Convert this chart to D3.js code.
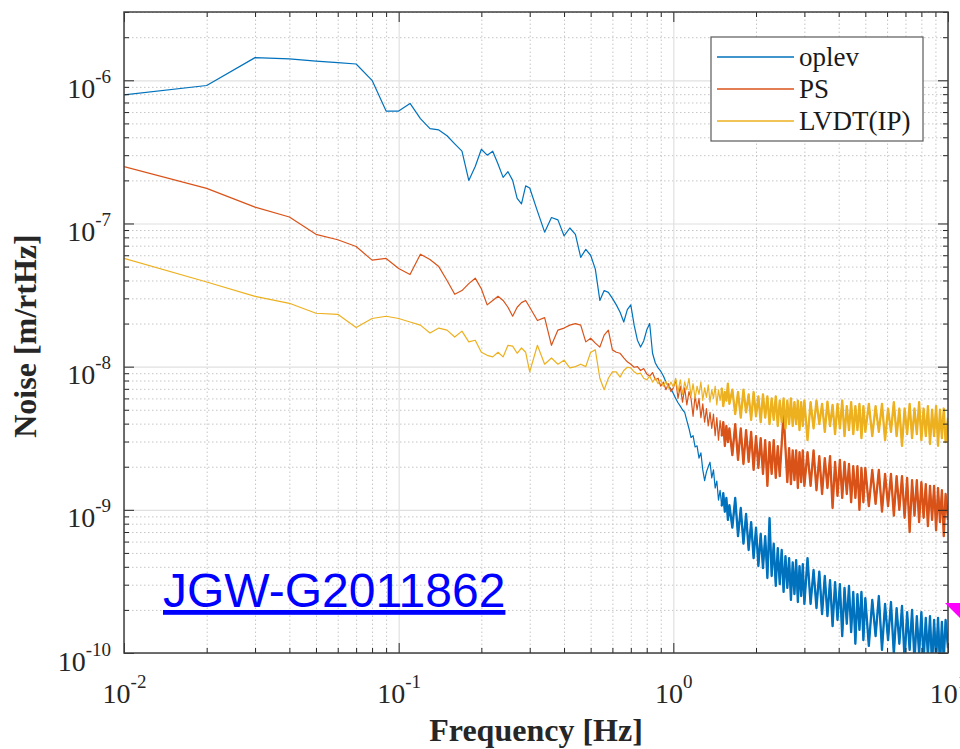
<!DOCTYPE html>
<html>
<head>
<meta charset="utf-8">
<script src="https://cdn.jsdelivr.net/npm/d3@7"></script>
<style>
body{margin:0;background:#fff;}
svg{display:block;}
</style>
</head>
<body>
<div id="chart-area"></div>
<script>
// frequency bins [Hz]
var freq=[0.01,0.02,0.03,0.04,0.05,0.06,0.07,0.08,0.09,
  0.10,0.11,0.12,0.13,0.14,0.15,0.16,0.17,0.18,0.19,
  0.20,0.21,0.22,0.23,0.24,0.25,0.26,0.27,0.28,0.29,0.30,
  0.32,0.34,0.36,0.38,0.40,0.42,0.44,0.46,0.48,0.50,
  0.52,0.54,0.56,0.58,0.60,0.62,0.64,0.66,0.68,0.70,
  0.72,0.74,0.76,0.78,0.80,0.82,0.84,0.86,0.88,0.90,
  0.92,0.94,0.96,0.98,1.00,
  1.02,1.04,1.06,1.08,1.10,1.12,1.14,1.16,1.18,1.20,
  1.22,1.24,1.26,1.28,1.30,1.32,1.34,1.36,1.38,1.40,
  1.42,1.44,1.46,1.48,1.50,1.52,1.54,1.56,1.58,1.60,
  1.64,1.68,1.72,1.76,1.80,1.84,1.88,1.92,1.96,2.00,
  2.04,2.08,2.12,2.16,2.20,2.24,2.28,2.32,2.36,2.40,
  2.44,2.48,2.52,2.56,2.60,2.64,2.68,2.72,2.76,2.80,
  2.84,2.88,2.92,2.96,3.00,
  3.08,3.16,3.24,3.32,3.40,3.48,3.56,3.64,3.72,3.80,
  3.88,3.96,4.04,4.12,4.20,4.28,4.36,4.44,4.52,4.60,
  4.68,4.76,4.84,4.92,5.00,
  5.15,5.30,5.45,5.60,5.75,5.90,6.05,6.20,6.35,6.50,
  6.65,6.80,6.95,7.10,7.25,7.40,7.55,7.70,7.85,8.00,
  8.15,8.30,8.45,8.60,8.75,8.90,9.05,9.20,9.35,9.50,
  9.65,9.80,10.0];

// noise [m/rtHz]
var oplev=[7.9e-7,9.2e-7,1.44e-6,1.41e-6,1.36e-6,1.33e-6,1.30e-6,1.0e-6,6.1e-7,
  6.1e-7,6.9e-7,5.4e-7,4.6e-7,4.5e-7,4.1e-7,3.6e-7,3.2e-7,2.0e-7,2.5e-7,
  3.3e-7,3.0e-7,3.2e-7,2.6e-7,2.1e-7,2.3e-7,2.0e-7,1.5e-7,1.37e-7,1.83e-7,1.77e-7,
  1.22e-7,8.7e-8,1.1e-7,1.06e-7,8.2e-8,9.3e-8,8.4e-8,5.8e-8,6.6e-8,6.0e-8,
  4.8e-8,2.9e-8,3.4e-8,3.3e-8,3.0e-8,2.7e-8,2.4e-8,2.05e-8,2.5e-8,2.7e-8,
  1.95e-8,1.53e-8,1.37e-8,1.51e-8,1.8e-8,2.0e-8,1.24e-8,1.06e-8,9.8e-9,9.3e-9,
  8.6e-9,7.8e-9,7.3e-9,7.0e-9,6.5e-9,
  6.0e-9,5.6e-9,5.3e-9,5.0e-9,4.8e-9,4.2e-9,3.7e-9,3.2e-9,3.3e-9,2.75e-9,
  2.8e-9,2.3e-9,2.5e-9,1.9e-9,1.6e-9,1.84e-9,2.0e-9,2.15e-9,1.67e-9,1.9e-9,
  1.42e-9,1.59e-9,1.17e-9,1.37e-9,1.06e-9,1.31e-9,9.7e-10,1.21e-9,8.5e-10,1.08e-9,
  7.5e-10,1.21e-9,6.55e-10,1.03e-9,5.8e-10,9.35e-10,5.24e-10,8.2e-10,4.6e-10,7.5e-10,
  4.05e-10,6.8e-10,3.92e-10,6.55e-10,3.34e-10,8.76e-10,3.45e-10,5.8e-10,2.94e-10,5.4e-10,
  3.03e-10,5.24e-10,2.67e-10,4.75e-10,2.85e-10,4.6e-10,2.35e-10,4.3e-10,2.58e-10,4.46e-10,
  2.27e-10,4.05e-10,2.5e-10,4.17e-10,2.2e-10,
  4.6e-10,2.2e-10,3.8e-10,2.06e-10,3.7e-10,1.87e-10,3.45e-10,1.81e-10,3.23e-10,1.54e-10,
  3.13e-10,1.7e-10,3.03e-10,1.31e-10,2.85e-10,1.6e-10,2.94e-10,1.4e-10,2.67e-10,1.16e-10,
  2.58e-10,1.45e-10,2.67e-10,1.23e-10,2.42e-10,
  1.12e-10,2.35e-10,1.31e-10,2.5e-10,1.05e-10,2.2e-10,1.23e-10,2.27e-10,9.8e-11,2.06e-10,
  1.16e-10,2.13e-10,8.9e-11,1.93e-10,1.05e-10,2.0e-10,8.7e-11,1.81e-10,9.8e-11,1.93e-10,
  8.7e-11,1.76e-10,9.5e-11,1.81e-10,8.1e-11,1.7e-10,8.9e-11,1.76e-10,7.9e-11,1.65e-10,
  8.9e-11,1.7e-10,1.08e-10];

var ps=[2.5e-7,1.76e-7,1.30e-7,1.11e-7,8.4e-8,7.7e-8,6.9e-8,5.55e-8,5.7e-8,
  4.85e-8,4.4e-8,6.1e-8,5.6e-8,5.0e-8,4.0e-8,3.2e-8,3.4e-8,3.8e-8,4.15e-8,
  3.5e-8,2.7e-8,2.9e-8,3.1e-8,2.9e-8,2.6e-8,2.25e-8,2.6e-8,2.8e-8,2.9e-8,2.6e-8,
  2.1e-8,2.2e-8,1.41e-8,1.8e-8,1.86e-8,1.95e-8,2.0e-8,1.95e-8,1.49e-8,1.58e-8,
  1.46e-8,1.37e-8,1.66e-8,1.8e-8,1.31e-8,1.26e-8,1.24e-8,1.15e-8,1.08e-8,1.04e-8,
  9.9e-9,1.0e-8,9.4e-9,9.7e-9,8.9e-9,8.6e-9,9.1e-9,8.1e-9,8.3e-9,7.3e-9,
  7.8e-9,6.9e-9,7.6e-9,6.7e-9,7.1e-9,
  8.1e-9,6.0e-9,7.3e-9,5.65e-9,7.1e-9,5.4e-9,6.7e-9,6.0e-9,4.5e-9,6.3e-9,
  5.0e-9,6.0e-9,4.4e-9,5.5e-9,4.1e-9,5.1e-9,3.85e-9,4.8e-9,3.7e-9,4.67e-9,
  3.3e-9,4.4e-9,3.07e-9,4.2e-9,3.27e-9,4.1e-9,2.79e-9,3.85e-9,2.97e-9,3.7e-9,
  2.41e-9,3.97e-9,2.23e-9,3.7e-9,2.09e-9,3.6e-9,2.16e-9,3.5e-9,1.9e-9,3.27e-9,
  1.96e-9,3.17e-9,1.78e-9,3.07e-9,1.47e-9,2.97e-9,1.78e-9,3.07e-9,1.67e-9,2.79e-9,
  1.72e-9,2.88e-9,4.8e-9,2.7e-9,1.56e-9,2.7e-9,1.51e-9,2.6e-9,1.61e-9,2.6e-9,
  1.42e-9,2.53e-9,1.56e-9,2.6e-9,1.47e-9,
  2.53e-9,1.47e-9,2.6e-9,1.37e-9,2.37e-9,1.29e-9,2.3e-9,1.42e-9,2.37e-9,1.03e-9,
  2.16e-9,1.25e-9,2.23e-9,1.21e-9,2.16e-9,1.29e-9,2.09e-9,1.13e-9,2.02e-9,1.21e-9,
  2.02e-9,1.0e-9,1.96e-9,1.13e-9,1.96e-9,
  1.06e-9,1.9e-9,1.1e-9,1.9e-9,9.7e-10,1.78e-9,1.06e-9,1.78e-9,9.1e-10,1.72e-9,
  1.0e-9,1.72e-9,8.8e-10,1.67e-9,7.0e-10,1.61e-9,9.1e-10,1.61e-9,8.2e-10,1.56e-9,
  8.8e-10,1.51e-9,7.7e-10,1.47e-9,8.5e-10,1.47e-9,7.2e-10,1.42e-9,8.2e-10,1.37e-9,
  6.55e-10,1.29e-9,8.5e-10];

var lvdt=[5.7e-8,3.9e-8,3.1e-8,2.77e-8,2.36e-8,2.32e-8,1.88e-8,2.17e-8,2.25e-8,
  2.17e-8,2.05e-8,1.95e-8,1.72e-8,1.86e-8,1.8e-8,1.61e-8,1.77e-8,1.49e-8,1.53e-8,
  1.26e-8,1.2e-8,1.17e-8,1.26e-8,1.17e-8,1.41e-8,1.39e-8,1.24e-8,1.35e-8,1.26e-8,9.2e-9,
  1.41e-8,1.04e-8,1.15e-8,1.04e-8,1.11e-8,9.8e-9,1.0e-8,1.04e-8,1.0e-8,1.26e-8,
  1.31e-8,8.3e-9,6.9e-9,8.3e-9,9.2e-9,9.2e-9,8.45e-9,9.4e-9,9.9e-9,9.8e-9,
  9.2e-9,8.9e-9,9.0e-9,8.3e-9,8.1e-9,8.6e-9,7.8e-9,8.3e-9,7.6e-9,8.1e-9,
  7.3e-9,7.9e-9,7.1e-9,7.8e-9,7.2e-9,
  8.3e-9,6.65e-9,8.1e-9,6.4e-9,7.8e-9,6.9e-9,8.3e-9,6.2e-9,7.6e-9,6.0e-9,
  7.3e-9,6.4e-9,7.8e-9,5.8e-9,7.1e-9,6.1e-9,7.45e-9,5.65e-9,6.9e-9,6.0e-9,
  7.3e-9,5.4e-9,6.9e-9,5.8e-9,7.1e-9,5.3e-9,6.65e-9,5.8e-9,7.6e-9,5.5e-9,
  6.9e-9,4.67e-9,6.65e-9,4.4e-9,6.9e-9,4.8e-9,6.4e-9,4.25e-9,6.65e-9,4.5e-9,
  6.2e-9,4.1e-9,6.4e-9,4.4e-9,6.2e-9,3.97e-9,6.0e-9,4.25e-9,6.2e-9,3.85e-9,
  5.8e-9,4.1e-9,6.0e-9,3.7e-9,5.8e-9,3.97e-9,6.0e-9,3.85e-9,5.65e-9,3.97e-9,
  5.8e-9,3.6e-9,5.65e-9,3.85e-9,5.8e-9,
  3.07e-9,5.65e-9,3.7e-9,5.8e-9,3.97e-9,5.5e-9,3.5e-9,5.7e-9,3.85e-9,5.4e-9,
  3.38e-9,5.5e-9,3.7e-9,5.8e-9,3.27e-9,5.3e-9,3.6e-9,5.65e-9,3.38e-9,5.3e-9,
  3.6e-9,5.5e-9,3.17e-9,5.3e-9,3.5e-9,
  5.5e-9,3.27e-9,5.3e-9,3.5e-9,5.5e-9,3.07e-9,5.1e-9,3.5e-9,5.65e-9,3.27e-9,
  5.1e-9,2.8e-9,5.1e-9,3.38e-9,5.5e-9,3.17e-9,5.1e-9,3.38e-9,5.65e-9,3.07e-9,
  5.1e-9,3.27e-9,5.3e-9,2.88e-9,5.0e-9,3.27e-9,5.3e-9,2.8e-9,5.0e-9,3.17e-9,
  5.1e-9,2.97e-9,4.4e-9];

var seriesNames=["oplev","PS","LVDT(IP)"];
var seriesColors=["#0072bd","#d95319","#edb120"];
var series=[oplev,ps,lvdt];

var margin={left:124,right:12,top:12,bottom:96};
var width=960-margin.left-margin.right;
var height=749-margin.top-margin.bottom;
var serif="'Liberation Serif','Times New Roman',serif";
var ink="#262626";

var svg=d3.select("#chart-area").append("svg")
    .attr("width",960)
    .attr("height",749);
svg.append("rect").attr("width",960).attr("height",749).attr("fill","#fff");

var g=svg.append("g")
    .attr("transform","translate("+margin.left+","+margin.top+")");

var x=d3.scaleLog().domain([1e-2,10]).range([0,width]);
var y=d3.scaleLog().domain([1e-10,3e-6]).range([height,0]);

var isMajor=function(v){
    var l=Math.log10(v);
    return Math.abs(l-Math.round(l))<1e-6;
};
var xTicks=x.ticks(), yTicks=y.ticks();
var xMajor=xTicks.filter(isMajor), xMinor=xTicks.filter(d=>!isMajor(d));
var yMajor=yTicks.filter(isMajor), yMinor=yTicks.filter(d=>!isMajor(d));

// grid
function grid(axis,cls,tr){
    var s=g.append("g").attr("class",cls);
    if(tr) s.attr("transform",tr);
    s.call(axis);
    s.select(".domain").remove();
    return s;
}
grid(d3.axisBottom(x).tickValues(xMinor).tickSize(-height).tickFormat(""),"grid","translate(0,"+height+")")
    .selectAll("line").attr("stroke","#c6c6c6").attr("stroke-dasharray","1.5,2.5");
grid(d3.axisLeft(y).tickValues(yMinor).tickSize(-width).tickFormat(""),"grid")
    .selectAll("line").attr("stroke","#c6c6c6").attr("stroke-dasharray","1.5,2.5");
grid(d3.axisBottom(x).tickValues(xMajor).tickSize(-height).tickFormat(""),"grid","translate(0,"+height+")")
    .selectAll("line").attr("stroke","#e0e0e0").attr("stroke-width",1.2);
grid(d3.axisLeft(y).tickValues(yMajor).tickSize(-width).tickFormat(""),"grid")
    .selectAll("line").attr("stroke","#e0e0e0").attr("stroke-width",1.2);

// data lines
g.append("clipPath").attr("id","plot-clip")
    .append("rect").attr("width",width).attr("height",height);

var line=d3.line()
    .x((d,i)=>x(freq[i]))
    .y(d=>y(d));
// the dense part of the spectra (above 1.5 Hz) reads as a filled band
var denseLine=d3.line()
    .defined((d,i)=>freq[i]>=1.5)
    .x((d,i)=>x(freq[i]))
    .y(d=>y(d));

var plot=g.append("g").attr("clip-path","url(#plot-clip)");
series.forEach(function(s,i){
    plot.append("path")
        .attr("d",line(s))
        .attr("fill","none")
        .attr("stroke",seriesColors[i])
        .attr("stroke-width",1.2)
        .attr("stroke-linejoin","round");
    plot.append("path")
        .attr("d",denseLine(s))
        .attr("fill","none")
        .attr("stroke",seriesColors[i])
        .attr("stroke-width",2.3)
        .attr("stroke-linejoin","round");
});

// axes: ticks pointing inward on all four sides
function ticks(axis,tr){
    var s=g.append("g").attr("transform",tr||null).call(axis);
    s.select(".domain").remove();
    s.selectAll("line").attr("stroke",ink).attr("stroke-width",1);
    return s;
}
var xBottom=ticks(d3.axisBottom(x).tickValues(xMajor).tickSize(-10).tickSizeOuter(0),"translate(0,"+height+")");
ticks(d3.axisBottom(x).tickValues(xMinor).tickSize(-5).tickFormat(""),"translate(0,"+height+")");
ticks(d3.axisTop(x).tickValues(xMajor).tickSize(-10).tickFormat(""));
ticks(d3.axisTop(x).tickValues(xMinor).tickSize(-5).tickFormat(""));
var yLeft=ticks(d3.axisLeft(y).tickValues(yMajor).tickSize(-10).tickSizeOuter(0));
ticks(d3.axisLeft(y).tickValues(yMinor).tickSize(-5).tickFormat(""));
ticks(d3.axisRight(y).tickValues(yMajor).tickSize(-10).tickFormat(""),"translate("+width+",0)");
ticks(d3.axisRight(y).tickValues(yMinor).tickSize(-5).tickFormat(""),"translate("+width+",0)");

g.append("rect")
    .attr("width",width).attr("height",height)
    .attr("fill","none").attr("stroke","#404040").attr("stroke-width",1.5);

// power-of-ten tick labels
xBottom.attr("font-family",serif).attr("font-size",28);
xBottom.selectAll(".tick text").each(function(d){
    var t=d3.select(this).text(null)
        .attr("y",50).attr("dy",null)
        .attr("fill",ink).attr("text-anchor","middle");
    t.append("tspan").text("10");
    t.append("tspan").attr("dy",-15).attr("font-size",19).text(Math.round(Math.log10(d)));
});
yLeft.attr("font-family",serif).attr("font-size",28);
yLeft.selectAll(".tick text").each(function(d){
    var t=d3.select(this).text(null)
        .attr("x",-13).attr("y",17).attr("dy",null)
        .attr("fill",ink).attr("text-anchor","end");
    t.append("tspan").text("10");
    t.append("tspan").attr("dy",-15).attr("font-size",19).text(Math.round(Math.log10(d)));
});

// axis titles
g.append("text")
    .attr("x",width/2)
    .attr("y",height+88)
    .attr("text-anchor","middle")
    .attr("font-family",serif)
    .attr("font-weight","bold")
    .attr("font-size",32)
    .attr("fill",ink)
    .text("Frequency [Hz]");

g.append("text")
    .attr("transform","translate("+(36-margin.left)+","+(336-margin.top)+") rotate(-90)")
    .attr("text-anchor","middle")
    .attr("font-family",serif)
    .attr("font-weight","bold")
    .attr("font-size",32)
    .attr("fill",ink)
    .text("Noise [m/rtHz]");

// legend
var legend=g.append("g").attr("transform","translate(587,25)");
legend.append("rect")
    .attr("width",212).attr("height",104)
    .attr("fill","#fff").attr("stroke","#5a5a5a").attr("stroke-width",1.2);
var items=legend.selectAll(".item")
    .data(seriesNames)
    .enter()
    .append("g")
    .attr("class","item")
    .attr("transform",(d,i)=>"translate(0,"+(20+i*32)+")");
items.append("line")
    .attr("x1",6).attr("x2",83)
    .attr("stroke",(d,i)=>seriesColors[i])
    .attr("stroke-width",1.3);
items.append("text")
    .attr("x",88).attr("y",9)
    .attr("font-family",serif)
    .attr("font-size",27)
    .attr("fill","#1a1a1a")
    .text(d=>d);

// document id
svg.append("text")
    .attr("x",163).attr("y",607)
    .attr("font-family","'Liberation Sans',Arial,sans-serif")
    .attr("font-size",48)
    .attr("fill","#0000ff")
    .attr("text-decoration","underline")
    .text("JGW-G2011862");

svg.append("polygon")
    .attr("points","945,603 960,603 960,618")
    .attr("fill","#ff00ff");
</script>
</body>
</html>
